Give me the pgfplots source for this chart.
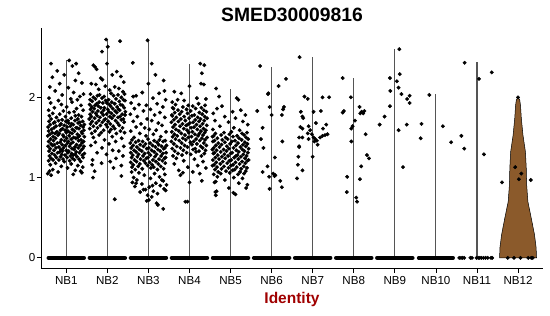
\documentclass[border=0pt]{standalone}
\usepackage{fontspec}
\setmainfont{Liberation Sans}
\usepackage{pgfplots}
\pgfplotsset{compat=1.18}
\definecolor{violinfill}{RGB}{139,90,43}
\definecolor{idred}{RGB}{160,0,0}
\definecolor{vline}{RGB}{85,85,85}
\begin{document}
\begin{tikzpicture}
\begin{axis}[
  name=ax,
  scale only axis, width=502.3bp, height=241bp,
  xmin=0.384, xmax=12.608, ymin=-0.137, ymax=2.864,
  axis lines=left, axis line style={-, line width=0.9bp, black},
  xtick={1,2,3,4,5,6,7,8,9,10,11,12},
  xticklabels={NB1,NB2,NB3,NB4,NB5,NB6,NB7,NB8,NB9,NB10,NB11,NB12},
  ytick={0,1,2},
  tick align=outside, major tick length=4bp,
  tick style={black, line width=0.8bp},
  tick label style={font=\fontsize{11.6bp}{13bp}\selectfont, text=black},
  xticklabel style={anchor=base, inner sep=0pt, yshift=-12bp},
  yticklabel style={anchor=east, inner sep=0pt, xshift=-1.5bp},
  /pgf/number format/assume math mode=true,
  clip=false,
]
% violins of NB1..NB11 (collapsed to lines)
\addplot[vline, line width=1.1bp] coordinates {(1,0) (1,2.46)};
\addplot[vline, line width=1.1bp] coordinates {(2,0) (2,2.72)};
\addplot[vline, line width=1.1bp] coordinates {(3,0) (3,2.71)};
\addplot[vline, line width=1.1bp] coordinates {(4,0) (4,2.41)};
\addplot[vline, line width=1.1bp] coordinates {(5,0) (5,2.11)};
\addplot[vline, line width=1.1bp] coordinates {(6,0) (6,2.38)};
\addplot[vline, line width=1.1bp] coordinates {(7,0) (7,2.50)};
\addplot[vline, line width=1.1bp] coordinates {(8,0) (8,2.24)};
\addplot[vline, line width=1.1bp] coordinates {(9,0) (9,2.60)};
\addplot[vline, line width=1.1bp] coordinates {(10,0) (10,2.04)};
\addplot[vline, line width=1.1bp] coordinates {(11,0) (11,2.44)};
% NB12 violin
\addplot[fill=violinfill, draw=black, line width=0.5bp] coordinates {
(12.45,0) (12.44,0.13) (12.40,0.29) (12.32,0.50) (12.24,0.70) (12.21,0.91) (12.20,1.12) (12.18,1.32) (12.12,1.53) (12.08,1.74) (12.06,1.90) (12.04,1.97) (12.0,2.0)
(11.96,1.97) (11.94,1.90) (11.92,1.74) (11.88,1.53) (11.82,1.32) (11.80,1.12) (11.79,0.91) (11.76,0.70) (11.68,0.50) (11.60,0.29) (11.56,0.13) (11.55,0)
} -- cycle;
% zero bands
\addplot[black, line width=4.2bp, line cap=round] coordinates {(0.57,0) (1.43,0)};
\addplot[black, line width=4.2bp, line cap=round] coordinates {(1.57,0) (2.43,0)};
\addplot[black, line width=4.2bp, line cap=round] coordinates {(2.57,0) (3.43,0)};
\addplot[black, line width=4.2bp, line cap=round] coordinates {(3.57,0) (4.43,0)};
\addplot[black, line width=4.2bp, line cap=round] coordinates {(4.57,0) (5.43,0)};
\addplot[black, line width=4.2bp, line cap=round] coordinates {(5.57,0) (6.43,0)};
\addplot[black, line width=4.2bp, line cap=round] coordinates {(6.57,0) (7.43,0)};
\addplot[black, line width=4.2bp, line cap=round] coordinates {(7.57,0) (8.43,0)};
\addplot[black, line width=4.2bp, line cap=round] coordinates {(8.57,0) (9.43,0)};
\addplot[black, line width=3.6bp, line cap=round] coordinates {(9.58,0) (10.42,0)};
\pgfplotsset{dots/.style={only marks, mark=*, mark size=1.75bp, black, mark options={draw=black, fill=black}}}
\addplot[dots] coordinates {(10.57,0) (10.61,0) (10.65,0) (10.69,0) (10.84,0) (10.88,0) (10.99,0) (11.03,0) (11.07,0) (11.11,0) (11.16,0) (11.21,0) (11.26,0) (11.34,0) (11.37,0)};
\addplot[dots] coordinates {(11.75,0) (11.90,0) (12.06,0) (12.25,0) (12.32,0) (12.36,0)};
% NB1
\addplot[dots] coordinates {
(0.63,2.42) (1.07,2.46) (1.24,2.42) (1.15,2.39) (0.78,2.33) (1.30,2.30) (0.66,2.25) (0.95,2.28) (1.22,2.21) (0.84,2.17) (1.38,2.18) (0.60,2.13) (1.05,2.12) (0.73,2.08) (1.18,2.06) (0.90,2.03) (1.33,2.01) (0.58,1.99) (1.11,1.98) (0.81,1.96) (1.27,1.97) (1.42,2.04)
(0.62,1.93) (0.88,1.91) (1.14,1.94) (1.36,1.90) (0.71,1.87) (1.01,1.88) (1.25,1.86) (0.57,1.84) (0.93,1.83) (1.19,1.82) (1.41,1.84) (0.67,1.80) (0.84,1.79) (1.07,1.81) (1.30,1.78) (0.59,1.77) (0.98,1.76) (1.22,1.77) (1.37,1.76) (0.76,1.75) (1.12,1.74) (0.63,1.73) (0.90,1.72) (1.28,1.73) (1.04,1.71)
(0.58,1.70) (0.72,1.69) (0.81,1.71) (0.99,1.70) (1.06,1.68) (1.21,1.71) (1.33,1.69) (1.40,1.70)
(0.61,1.66) (0.69,1.68) (0.87,1.67) (0.95,1.65) (1.13,1.67) (1.17,1.66) (1.29,1.68) (1.44,1.66)
(0.56,1.63) (0.75,1.64) (0.84,1.65) (1.02,1.63) (1.10,1.64) (1.24,1.62) (1.35,1.65) (1.41,1.63)
(0.64,1.60) (0.70,1.62) (0.91,1.61) (0.97,1.59) (1.15,1.60) (1.26,1.62) (1.31,1.61) (1.43,1.59)
(0.57,1.58) (0.77,1.57) (0.86,1.59) (1.04,1.58) (1.09,1.56) (1.20,1.58) (1.37,1.57) (0.66,1.56)
(0.60,1.54) (0.73,1.55) (0.92,1.53) (1.00,1.56) (1.14,1.55) (1.27,1.54) (1.39,1.55) (0.83,1.55)
(0.55,1.52) (0.68,1.51) (0.80,1.53) (0.94,1.51) (1.07,1.52) (1.18,1.50) (1.32,1.52) (1.44,1.51)
(0.62,1.48) (0.74,1.49) (0.88,1.47) (1.01,1.49) (1.12,1.48) (1.23,1.49) (1.36,1.47) (1.28,1.50)
(0.57,1.45) (0.69,1.46) (0.85,1.44) (0.96,1.46) (1.05,1.45) (1.16,1.44) (1.30,1.46) (1.42,1.45)
(0.63,1.42) (0.78,1.43) (0.90,1.41) (1.03,1.43) (1.11,1.42) (1.25,1.41) (1.38,1.43) (0.71,1.41)
(0.56,1.39) (0.67,1.40) (0.82,1.38) (0.98,1.40) (1.08,1.39) (1.21,1.38) (1.34,1.40) (1.43,1.39)
(0.61,1.36) (0.75,1.37) (0.87,1.35) (0.93,1.37) (1.14,1.36) (1.19,1.35) (1.29,1.37) (1.40,1.36)
(0.58,1.33) (0.70,1.34) (0.84,1.32) (1.00,1.34) (1.06,1.33) (1.24,1.32) (1.36,1.34) (0.91,1.33)
(0.65,1.30) (0.79,1.31) (0.89,1.29) (1.04,1.31) (1.13,1.30) (1.22,1.29) (1.32,1.31) (1.44,1.30)
(0.59,1.27) (0.72,1.28) (0.86,1.26) (0.97,1.28) (1.10,1.27) (1.26,1.26) (1.39,1.28) (1.17,1.28)
(0.63,1.24) (0.76,1.25) (0.92,1.23) (1.02,1.25) (1.15,1.24) (1.31,1.23) (1.41,1.25) (0.68,1.22)
(0.57,1.21) (0.82,1.22) (0.95,1.20) (1.08,1.21) (1.20,1.22) (1.35,1.20)
(0.74,1.18) (1.12,1.17) (0.61,1.16) (1.28,1.15) (0.88,1.14) (1.40,1.13) (1.03,1.12) (0.67,1.10) (1.22,1.09) (0.80,1.07) (1.35,1.08) (0.55,1.05) (0.63,1.03) (1.17,1.04) (1.38,1.06) (0.59,1.08)
};
% NB2
\addplot[dots] coordinates {
(1.97,2.72) (2.31,2.70) (2.01,2.63) (1.87,2.57) (1.66,2.40) (1.70,2.38) (1.74,2.35) (1.99,2.42) (2.23,2.32) (1.84,2.24) (1.88,2.22) (2.33,2.26) (2.12,2.28) (2.40,2.19) (1.61,2.17) (1.72,2.16) (1.95,2.14) (2.18,2.13) (2.28,2.11) (1.79,2.10) (2.06,2.09) (2.38,2.07)
(1.59,2.04) (1.81,2.03) (2.09,2.05) (2.26,2.03) (2.42,2.04)
(1.66,2.00) (1.92,2.01) (2.15,2.02) (2.34,2.00) (1.76,2.02)
(1.58,1.97) (1.71,1.98) (1.87,1.99) (2.03,1.97) (2.21,1.98) (2.39,1.97)
(1.63,1.95) (1.80,1.94) (1.96,1.96) (2.11,1.94) (2.29,1.95) (2.43,1.96)
(1.57,1.91) (1.74,1.92) (1.89,1.93) (2.05,1.91) (2.18,1.92) (2.32,1.91) (1.99,1.93)
(1.62,1.88) (1.78,1.89) (1.93,1.87) (2.08,1.89) (2.24,1.88) (2.37,1.90) (1.70,1.90)
(1.59,1.85) (1.68,1.86) (1.84,1.87) (2.01,1.85) (2.13,1.86) (2.27,1.85) (2.41,1.87)
(1.64,1.82) (1.77,1.83) (1.91,1.84) (2.04,1.82) (2.19,1.83) (2.30,1.84) (2.44,1.82)
(1.58,1.79) (1.72,1.80) (1.86,1.81) (1.98,1.79) (2.10,1.80) (2.23,1.81) (2.36,1.79)
(1.61,1.76) (1.75,1.77) (1.90,1.78) (2.06,1.76) (2.16,1.77) (2.31,1.76) (2.43,1.78)
(1.56,1.73) (1.69,1.74) (1.82,1.75) (1.95,1.73) (2.11,1.74) (2.26,1.75) (2.39,1.73)
(1.63,1.70) (1.79,1.71) (1.93,1.72) (2.02,1.70) (2.20,1.71) (2.34,1.72)
(1.59,1.67) (1.73,1.68) (1.88,1.69) (2.07,1.67) (2.25,1.68) (2.41,1.69)
(1.66,1.64) (1.83,1.65) (1.97,1.66) (2.14,1.64) (2.29,1.65)
(1.57,1.61) (1.76,1.62) (2.00,1.63) (2.18,1.61) (2.37,1.62)
(1.70,1.58) (1.91,1.59) (2.09,1.60) (2.32,1.58)
(1.62,1.55) (1.85,1.56) (2.05,1.57) (2.22,1.55) (2.42,1.56)
(1.66,1.50) (1.80,1.53) (2.12,1.51) (2.35,1.49) (1.93,1.47) (1.71,1.44) (2.20,1.45) (2.04,1.42) (1.60,1.40) (2.40,1.39) (1.87,1.37) (2.13,1.34) (2.28,1.33) (1.75,1.31) (1.98,1.29) (2.38,1.27) (2.21,1.24) (1.64,1.22) (2.07,1.20) (1.86,1.18) (1.63,1.16) (2.34,1.15) (2.15,1.12) (1.69,1.08) (2.34,1.02) (1.65,1.00) (2.18,0.73)
};
% NB3
\addplot[dots] coordinates {
(2.98,2.71) (2.62,2.43) (3.08,2.42) (3.17,2.28) (3.37,2.21) (3.00,2.17) (3.39,2.08) (2.63,2.01) (2.70,2.02) (3.26,2.05) (2.85,2.06) (3.11,1.99) (3.42,1.97)
(2.58,1.93) (2.77,1.91) (2.95,1.90) (3.21,1.92) (3.35,1.88) (2.66,1.86) (3.05,1.85) (2.88,1.83) (3.28,1.81) (2.56,1.79) (3.15,1.78) (2.73,1.76) (3.40,1.75) (2.97,1.73) (3.08,1.71) (2.63,1.70) (3.24,1.68) (2.82,1.67) (3.33,1.65) (2.70,1.63) (2.91,1.62) (3.02,1.60) (3.19,1.59) (2.57,1.58) (3.43,1.57) (2.79,1.55) (3.12,1.54) (2.94,1.52) (3.30,1.51) (2.65,1.50)
(2.60,1.47) (2.76,1.46) (2.99,1.48) (3.14,1.46) (3.27,1.47) (3.41,1.46)
(2.56,1.43) (2.69,1.44) (2.86,1.45) (3.04,1.43) (3.21,1.44) (3.36,1.45)
(2.63,1.40) (2.80,1.41) (2.93,1.42) (3.10,1.40) (3.25,1.41) (3.44,1.40)
(2.58,1.37) (2.72,1.38) (2.88,1.39) (3.01,1.37) (3.17,1.38) (3.32,1.39) (3.40,1.37)
(2.65,1.34) (2.78,1.35) (2.96,1.36) (3.08,1.34) (3.23,1.35) (3.37,1.36)
(2.57,1.31) (2.70,1.32) (2.84,1.33) (3.00,1.31) (3.14,1.32) (3.29,1.33) (3.43,1.31)
(2.62,1.28) (2.76,1.29) (2.91,1.30) (3.05,1.28) (3.20,1.29) (3.35,1.30)
(2.59,1.25) (2.73,1.26) (2.87,1.27) (2.99,1.25) (3.16,1.26) (3.31,1.27) (3.42,1.25)
(2.66,1.22) (2.81,1.23) (2.95,1.24) (3.11,1.22) (3.26,1.23) (3.39,1.24)
(2.57,1.19) (2.71,1.20) (2.89,1.21) (3.03,1.19) (3.18,1.20) (3.34,1.21)
(2.63,1.16) (2.79,1.17) (2.93,1.18) (3.09,1.16) (3.24,1.17) (3.41,1.18)
(2.60,1.13) (2.75,1.14) (2.98,1.15) (3.13,1.13) (3.30,1.14)
(2.68,1.10) (2.85,1.11) (3.06,1.12) (3.22,1.10) (3.37,1.11)
(2.59,1.07) (2.77,1.06) (3.15,1.05) (3.40,1.04) (2.90,1.03) (2.64,1.00) (3.27,1.01) (3.05,0.99) (2.72,0.97) (3.36,0.96) (2.61,0.94) (3.18,0.93) (2.84,0.92) (3.44,0.91) (2.67,0.89) (3.02,0.88) (3.29,0.90) (2.88,0.85) (2.93,0.85) (3.38,0.86) (3.12,0.83) (2.80,0.82) (3.22,0.80) (3.42,0.84) (2.98,0.78) (3.08,0.76) (2.96,0.71) (3.01,0.72) (3.23,0.66) (3.20,0.68) (3.36,0.61) (2.70,0.93) (3.33,0.97) (3.10,0.90)
};
% NB4
\addplot[dots] coordinates {
(4.26,2.42) (4.36,2.40) (4.30,2.30) (4.28,2.17) (4.35,2.16) (3.63,2.07) (3.80,2.05) (4.00,2.14) (3.71,1.97) (3.87,1.96) (4.18,1.99) (4.40,1.98) (3.58,1.94)
(3.66,1.91) (3.97,1.90) (4.22,1.92) (4.38,1.90)
(3.59,1.87) (3.84,1.88) (4.08,1.89) (4.29,1.87)
(3.72,1.84) (3.93,1.85) (4.15,1.86) (4.35,1.84) (3.61,1.86)
(3.64,1.81) (3.81,1.82) (4.03,1.83) (4.24,1.81) (4.41,1.82)
(3.57,1.78) (3.76,1.79) (3.95,1.80) (4.12,1.78) (4.31,1.79)
(3.68,1.75) (3.87,1.76) (4.06,1.77) (4.20,1.75) (4.37,1.76) (3.58,1.77)
(3.62,1.72) (3.79,1.73) (3.99,1.74) (4.14,1.72) (4.27,1.73) (4.43,1.74)
(3.56,1.69) (3.73,1.70) (3.90,1.71) (4.09,1.69) (4.23,1.70) (4.36,1.71)
(3.65,1.66) (3.83,1.67) (4.01,1.68) (4.17,1.66) (4.32,1.67) (3.96,1.66)
(3.60,1.63) (3.77,1.64) (3.92,1.65) (4.11,1.63) (4.26,1.64) (4.42,1.65)
(3.67,1.60) (3.86,1.61) (4.04,1.62) (4.19,1.60) (4.34,1.61)
(3.57,1.57) (3.74,1.58) (3.94,1.59) (4.07,1.57) (4.28,1.58) (4.40,1.59)
(3.63,1.54) (3.80,1.55) (3.98,1.56) (4.13,1.54) (4.24,1.55) (4.37,1.56)
(3.59,1.51) (3.70,1.52) (3.89,1.53) (4.05,1.51) (4.21,1.52) (4.33,1.53)
(3.66,1.48) (3.84,1.49) (3.97,1.50) (4.16,1.48) (4.30,1.49) (4.43,1.50)
(3.56,1.45) (3.75,1.46) (3.91,1.47) (4.10,1.45) (4.25,1.46) (4.38,1.47)
(3.62,1.42) (3.81,1.43) (4.02,1.44) (4.18,1.42) (4.35,1.43)
(3.69,1.39) (3.88,1.40) (4.06,1.41) (4.27,1.39) (4.41,1.40)
(3.58,1.36) (3.78,1.37) (3.95,1.38) (4.14,1.36) (4.32,1.37)
(3.64,1.33) (3.85,1.34) (4.09,1.35) (4.23,1.33) (4.39,1.34)
(3.72,1.30) (3.93,1.31) (4.16,1.32) (4.36,1.30)
(3.60,1.27) (3.82,1.28) (4.03,1.29) (4.29,1.27)
(3.68,1.24) (4.12,1.23) (3.86,1.21) (4.33,1.20) (3.63,1.17) (4.20,1.15) (3.96,1.13) (4.40,1.12) (3.74,1.09) (4.08,1.07) (3.78,1.03) (3.84,1.06) (4.25,1.05) (4.00,0.94) (4.30,0.96) (3.90,0.70) (3.95,0.70)
};
% NB5
\addplot[dots] coordinates {
(4.65,2.11) (4.72,2.01) (5.15,1.99) (5.19,1.97) (4.67,1.86) (4.79,1.89) (5.25,1.84) (4.58,1.80) (5.05,1.82) (5.36,1.78) (4.86,1.76) (5.12,1.74) (4.62,1.71) (5.30,1.70) (4.95,1.69) (5.42,1.66) (4.74,1.64) (5.08,1.62) (4.57,1.60) (5.22,1.59)
(4.63,1.55) (4.84,1.56) (5.02,1.57) (5.28,1.55) (5.40,1.56)
(4.59,1.52) (4.77,1.53) (4.97,1.54) (5.16,1.52) (5.33,1.53)
(4.68,1.49) (4.88,1.50) (5.06,1.51) (5.21,1.49) (5.38,1.50) (4.56,1.51)
(4.61,1.46) (4.80,1.47) (4.93,1.48) (5.11,1.46) (5.27,1.47) (5.43,1.48)
(4.70,1.43) (4.86,1.44) (5.03,1.45) (5.18,1.43) (5.35,1.44) (4.57,1.45)
(4.64,1.40) (4.78,1.41) (4.99,1.42) (5.13,1.40) (5.30,1.41) (5.41,1.42)
(4.59,1.37) (4.73,1.38) (4.91,1.39) (5.07,1.37) (5.24,1.38) (5.37,1.39)
(4.66,1.34) (4.83,1.35) (4.96,1.36) (5.14,1.34) (5.29,1.35) (5.44,1.36) (4.56,1.35)
(4.61,1.31) (4.76,1.32) (4.90,1.33) (5.04,1.31) (5.20,1.32) (5.34,1.33) (5.42,1.31)
(4.69,1.28) (4.85,1.29) (5.00,1.30) (5.17,1.28) (5.31,1.29) (4.58,1.30)
(4.63,1.25) (4.79,1.26) (4.94,1.27) (5.09,1.25) (5.25,1.26) (5.39,1.27) (5.13,1.27)
(4.57,1.22) (4.72,1.23) (4.87,1.24) (5.02,1.22) (5.19,1.23) (5.35,1.24) (5.44,1.22)
(4.65,1.19) (4.81,1.20) (4.97,1.21) (5.12,1.19) (5.28,1.20) (5.41,1.21)
(4.60,1.16) (4.75,1.17) (4.92,1.18) (5.06,1.16) (5.22,1.17) (5.36,1.18)
(4.67,1.13) (4.84,1.14) (5.01,1.15) (5.15,1.13) (5.32,1.14) (4.56,1.15)
(4.62,1.10) (4.78,1.11) (4.95,1.12) (5.10,1.10) (5.26,1.11) (5.40,1.12)
(4.70,1.07) (4.89,1.08) (5.05,1.09) (5.23,1.07) (5.37,1.08)
(4.59,1.04) (4.76,1.05) (4.98,1.06) (5.18,1.04) (5.33,1.05)
(4.68,1.01) (5.08,1.00) (5.29,0.99) (4.86,0.97) (4.64,0.95) (4.61,0.94) (5.20,0.93) (5.41,0.91) (4.96,0.87) (5.38,0.87) (4.66,0.83) (4.63,0.82) (5.07,0.81) (4.64,0.78) (5.12,0.79)
};
% NB6
\addplot[dots] coordinates {
(5.72,2.39) (6.35,2.23) (6.17,2.14) (5.91,2.04) (5.92,2.05) (5.65,1.83) (5.95,1.88) (6.00,1.78) (6.30,1.88) (6.28,1.85) (6.25,1.78) (5.78,1.62) (5.74,1.48) (5.80,1.37) (6.26,1.45) (6.08,1.25) (5.90,1.14) (5.78,1.07) (6.04,1.05) (6.07,1.02) (5.94,1.01) (6.21,0.96) (5.95,0.86) (6.25,0.88) (6.09,1.03)
};
% NB7
\addplot[dots] coordinates {
(6.68,2.50) (6.80,2.01) (6.88,1.98) (7.24,2.00) (7.40,2.00) (6.71,1.82) (6.75,1.76) (6.77,1.74) (7.02,1.82) (7.20,1.83) (7.08,1.68) (7.33,1.66) (7.25,1.61) (6.70,1.63) (6.75,1.61) (6.90,1.64) (6.94,1.59) (6.88,1.55) (6.98,1.54) (7.02,1.50) (7.06,1.48) (7.10,1.46) (7.12,1.41) (7.18,1.50) (7.24,1.52) (7.30,1.53) (7.36,1.54) (6.75,1.50) (6.67,1.50) (6.90,1.48) (7.04,1.45) (6.67,1.39) (6.67,1.38) (7.00,1.26) (6.65,1.26) (6.64,1.16) (6.75,1.09) (6.62,0.99)
};
% NB8
\addplot[dots] coordinates {
(7.73,2.24) (7.93,2.00) (8.14,1.88) (8.19,1.82) (8.23,1.80) (8.26,1.83) (8.16,1.80) (7.76,1.83) (7.73,1.81) (8.03,1.71) (7.97,1.64) (7.94,1.61) (8.29,1.54) (7.94,1.45) (8.32,1.28) (8.37,1.24) (8.18,1.14) (7.84,1.01) (8.15,0.98) (7.83,0.82) (8.06,0.75) (8.08,0.70)
};
% NB9
\addplot[dots] coordinates {
(9.11,2.60) (8.88,2.24) (9.12,2.29) (9.05,2.20) (9.09,2.12) (8.89,2.08) (9.16,2.04) (9.36,2.02) (9.30,1.98) (9.36,1.93) (8.88,1.89) (8.75,1.76) (8.63,1.66) (9.29,1.66) (9.09,1.59) (9.20,1.13)
};
% NB10
\addplot[dots] coordinates {
(9.84,2.03) (9.65,1.67) (9.63,1.49) (10.17,1.64) (10.37,1.44)
};
% NB11
\addplot[dots] coordinates {
(10.62,1.52) (10.69,1.36) (10.70,2.43) (11.05,2.23) (11.36,2.31) (11.17,1.29)
};
% NB12
\addplot[dots] coordinates {
(12.00,2.00) (11.93,1.13) (12.08,1.05) (12.02,0.98) (11.61,0.94) (12.31,0.97)
};
\node[anchor=base, font=\bfseries\fontsize{19.3bp}{22bp}\selectfont, yshift=6.6bp] at (rel axis cs:0.5,1) {SMED30009816};
\node[anchor=base, font=\bfseries\fontsize{15.5bp}{18bp}\selectfont, text=idred, yshift=-35bp] at (rel axis cs:0.5,0) {Identity};
\end{axis}
\path ([shift={(-41bp,-47bp)}]ax.south west) rectangle ([shift={(7bp,28bp)}]ax.north east);
\end{tikzpicture}
\end{document}
